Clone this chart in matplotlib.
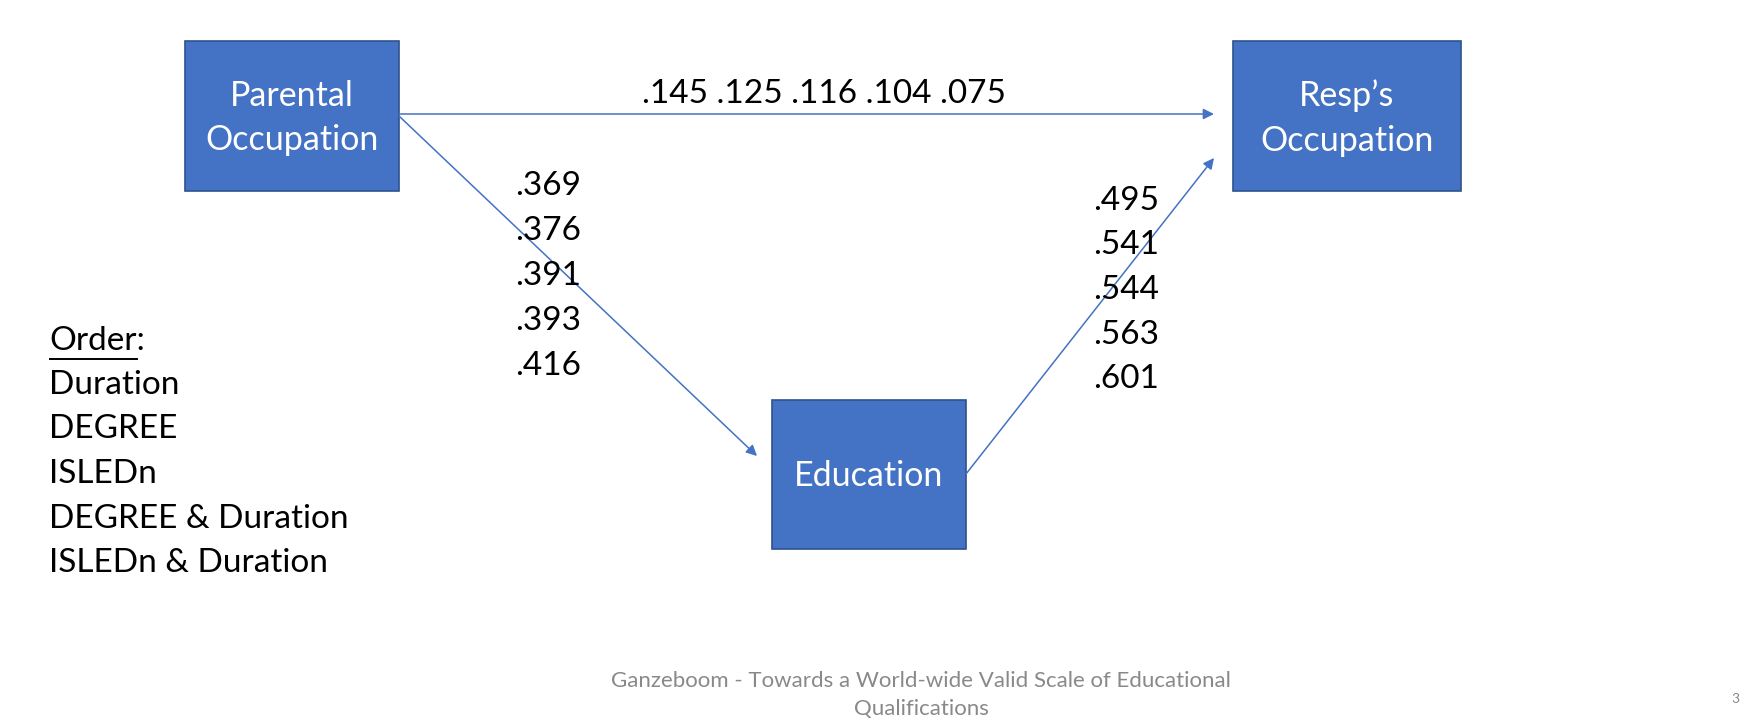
import matplotlib.pyplot as plt
from matplotlib.patches import Rectangle

plt.rcParams['font.family'] = ['Lato', 'DejaVu Sans']

# path diagram content
boxes = ["Parental\nOccupation", "Resp\u2019s\nOccupation", "Education"]
direct_effects = [".145", ".125", ".116", ".104", ".075"]
par_to_edu = [".369", ".376", ".391", ".393", ".416"]
edu_to_resp = [".495", ".541", ".544", ".563", ".601"]
order_labels = ["Duration", "DEGREE", "ISLEDn", "DEGREE & Duration", "ISLEDn & Duration"]
footer = "Ganzeboom - Towards a World-wide Valid Scale of Educational\nQualifications"

blue = "#4472C4"
edge = "#2F528F"
fs = 24

fig = plt.figure(figsize=(17.42, 7.2), dpi=100)
ax = fig.add_axes([0, 0, 1, 1])
ax.set_xlim(0, 1742)
ax.set_ylim(720, 0)
ax.axis("off")

# boxes: x0, y0, x1, y1 in pixel space
rects = [(185, 41, 399, 191), (1233, 41, 1461, 191), (772, 400, 966, 549)]
for (x0, y0, x1, y1), lab in zip(rects, boxes):
    ax.add_patch(Rectangle((x0, y0), x1 - x0, y1 - y0, facecolor=blue,
                           edgecolor=edge, linewidth=1.2))
    ax.text((x0 + x1) / 2, (y0 + y1) / 2 + 2, lab, color="white", fontsize=24.5,
            ha="center", va="center", linespacing=1.5)

arrow = dict(arrowstyle="-|>", color=blue, lw=1.1, mutation_scale=16,
             shrinkA=0, shrinkB=0)
ax.annotate("", xy=(1214, 114), xytext=(399, 114), arrowprops=arrow)
ax.annotate("", xy=(757, 456), xytext=(399, 116), arrowprops=arrow)
ax.annotate("", xy=(1214, 158), xytext=(966, 474), arrowprops=arrow)

ax.text(824, 94, " ".join(direct_effects), fontsize=fs, ha="center", va="center")

for i, v in enumerate(par_to_edu):
    ax.text(515, 186 + i * 45, v, fontsize=fs, ha="left", va="center")
for i, v in enumerate(edu_to_resp):
    ax.text(1093, 201 + i * 44.5, v, fontsize=fs, ha="left", va="center")

# order legend, underline only under the word
t = ax.text(49, 341, "Order", fontsize=fs, ha="left", va="center")
fig.canvas.draw()
bb = t.get_window_extent().transformed(ax.transData.inverted())
t.remove()
ax.text(49, 341, "Order:", fontsize=fs, ha="left", va="center")
ax.plot([bb.x0 + 1, bb.x1], [359, 359], color="black", lw=1.4)
for i, lab in enumerate(order_labels):
    ax.text(49, 385 + i * 44.5, lab, fontsize=fs, ha="left", va="center")

ax.text(921, 695, footer, fontsize=16, color="#898989", ha="center", va="center",
        linespacing=1.5)
ax.text(1731, 699, "3", fontsize=10, color="#898989", ha="left", va="center")

fig.savefig("out.png", dpi=100, facecolor="white")
